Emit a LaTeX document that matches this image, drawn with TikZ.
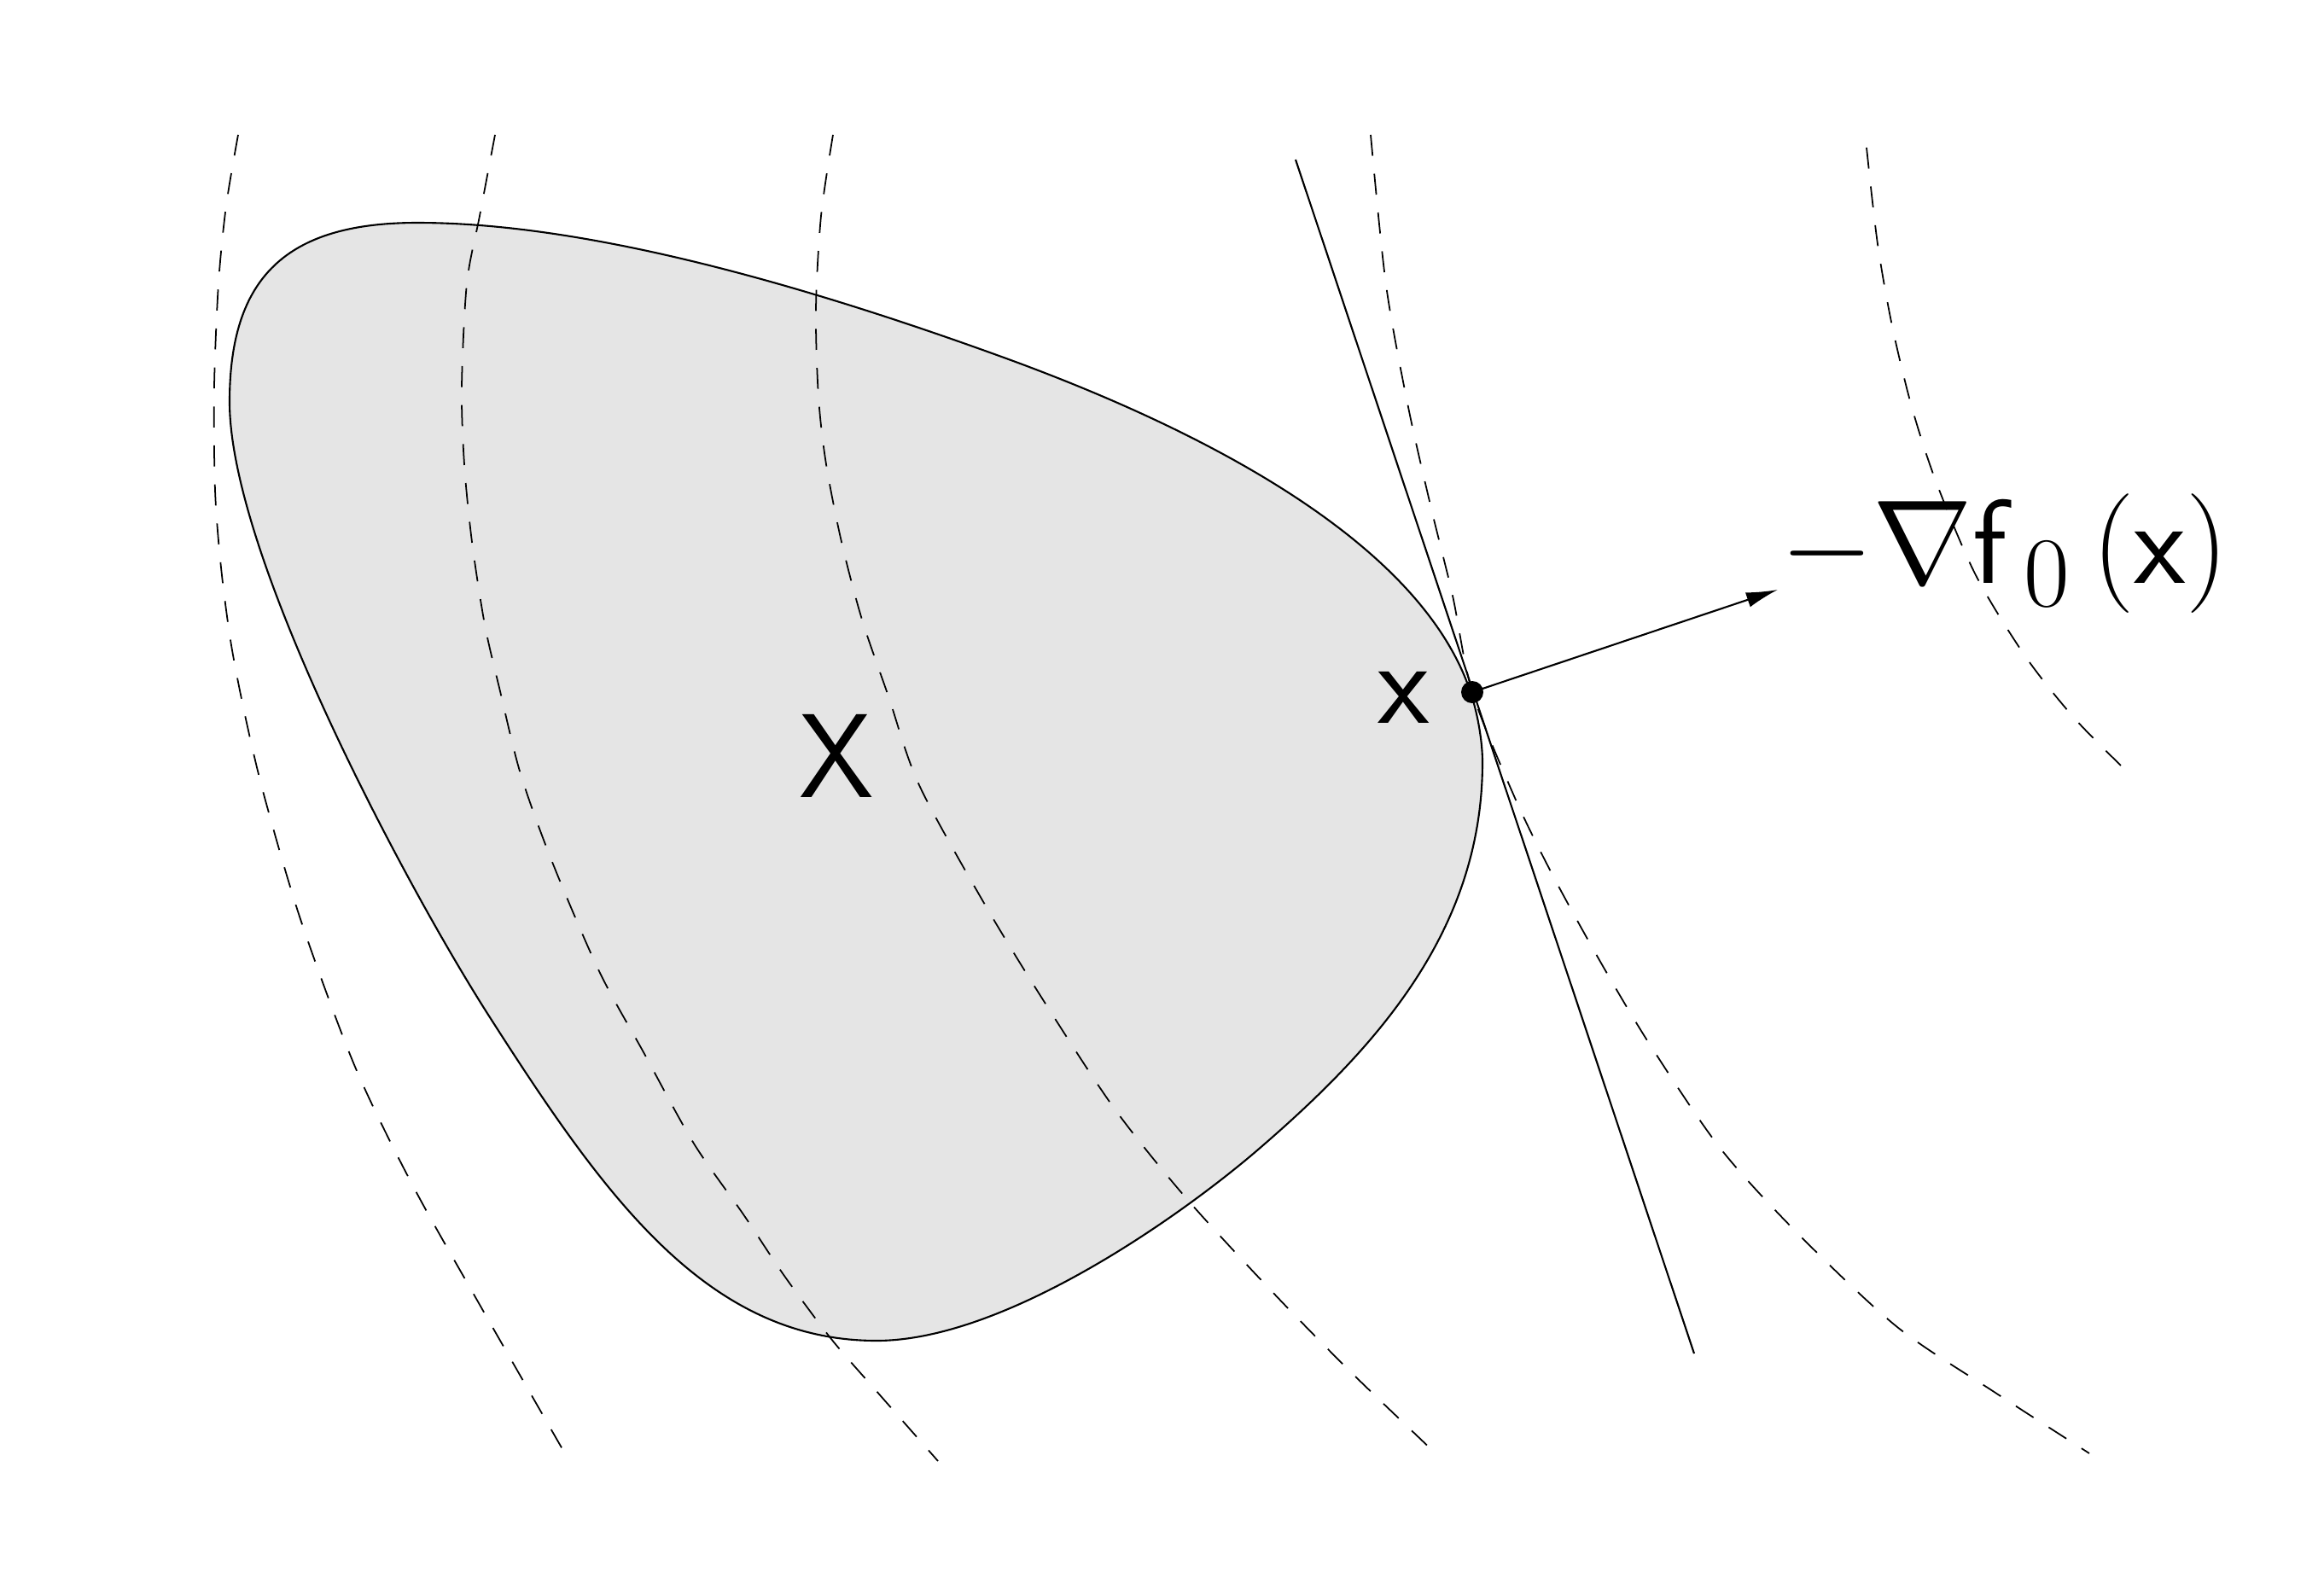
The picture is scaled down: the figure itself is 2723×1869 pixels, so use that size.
\documentclass[tikz,border=0pt]{standalone}
\usepackage{amsmath,amssymb}
\usepackage{tikz}
\usetikzlibrary{arrows.meta}

\definecolor{setgray}{gray}{0.9}

\begin{document}
\begin{tikzpicture}[x=0.01cm, y=-0.01cm,
    level/.style={dash pattern=on 7pt off 6pt, line width=0.5pt},
    big/.style={font=\Huge, scale=1.6, transform shape, inner sep=0pt}]
    \useasboundingbox (0, 0) rectangle (2723, 1869);
    % the set X
    \filldraw[fill=setgray, line width=0.6pt] (489,261)
      .. controls (689,261) and (944,334.5) .. (1179,420)
      .. controls (1423,509) and (1666,640) .. (1723,811)
      .. controls (1731,835) and (1737,868) .. (1737,893)
      .. controls (1737,1093) and (1609,1231) .. (1473,1348)
      .. controls (1382,1426) and (1177,1571) .. (1027,1571)
      .. controls (827,1571) and (707,1400) .. (572,1189)
      .. controls (475,1037) and (269,651) .. (269,471)
      .. controls (269,326) and (334,261) .. cycle;
    % level curves of f0
    \draw[level] plot[smooth] coordinates {(279,158) (265,241) (256,332)
      (251,453) (252,574) (259,665) (271,756) (289,847) (311,938) (353,1080)
      (416,1250) (483,1388) (561,1527) (663,1705)};
    \draw[level] plot[smooth] coordinates {(580,158) (562,253) (547,332)
      (541,453) (544,544) (553,635) (568,732) (586,810) (610,907) (647,1010)
      (702,1138) (754,1233) (813,1340) (871,1423) (919,1495) (974,1569)
      (1026,1629) (1099,1712)};
    \draw[level] plot[smooth] coordinates {(976,158) (962,253) (956,362)
      (959,465) (968,544) (986,635) (1010,726) (1041,816) (1077,920)
      (1154,1060) (1223,1173) (1305,1298) (1389,1403) (1490,1513)
      (1583,1608) (1682,1703)};
    \draw[level] plot[smooth] coordinates {(1606,158) (1624,334) (1650,477)
      (1677,596) (1702,698) (1725,811) (1775,935) (1820,1027) (1878,1132)
      (1935,1227) (2016,1346) (2108,1447) (2223,1555) (2338,1632)
      (2448,1703)};
    \draw[level] plot[smooth] coordinates {(2187,173) (2200,286) (2217,382)
      (2240,477) (2269,566) (2315,674) (2373,769) (2430,841) (2488,900)};
    % supporting line at x
    \draw[line width=0.6pt] (1518,187) -- (1985,1586);
    \node[circle, fill, inner sep=0pt, minimum size=2.6mm] (pt) at (1725,811) {};
    \coordinate (tip) at (2083,691);
    \draw[line width=0.6pt, -{Latex[length=3.7mm,width=1.8mm]}] (pt.center) -- (tip);
    \node[big] (setX) at (980,886) {$\mathsf{X}$};
    \node[big] (ptx) at (1645,817) {$\mathsf{x}$};
    \node[big, anchor=base west] (grad) at (2085,683)
      {$-\nabla\mathsf{f}_{\,0}\,(\mathsf{x})$};
  \end{tikzpicture}
\end{document}
